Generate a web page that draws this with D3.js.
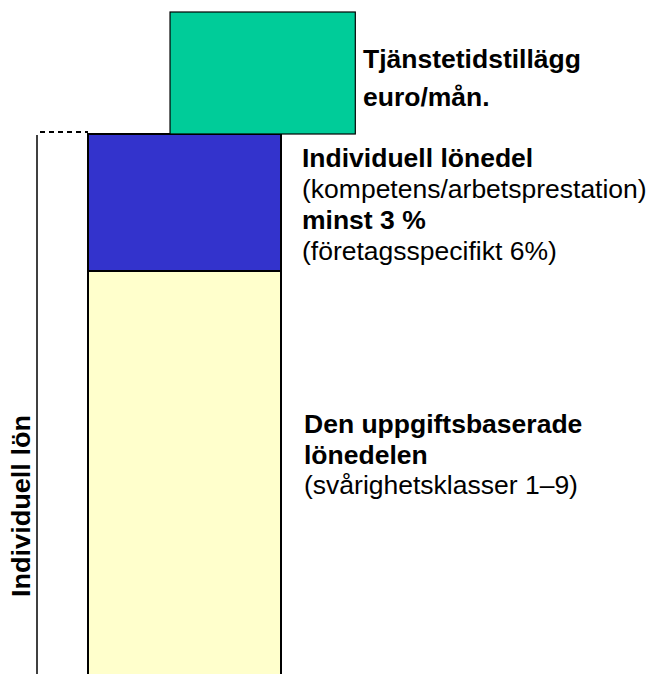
<!DOCTYPE html>
<html>
<head>
<meta charset="utf-8">
<script src="https://cdn.jsdelivr.net/npm/d3@7"></script>
<style>
  body { margin: 0; background: #fff; }
  text { font-family: "Liberation Sans", Arial, sans-serif; fill: #000; }
</style>
</head>
<body>
<div id="chart-area"></div>
<script>
// salary parts, bottom to top
var parts = ["Den uppgiftsbaserade lönedelen", "Individuell lönedel", "Tjänstetidstillägg"];
var partValues = [40.5, 13.7, 12.2];
var partColors = ["#FFFFCC", "#3333CC", "#00CC99"];

// text next to each part (one line per entry)
var labelLines = [
    ["Den uppgiftsbaserade", "lönedelen", "(svårighetsklasser 1–9)"],
    ["Individuell lönedel", "(kompetens/arbetsprestation)", "minst 3 %", "(företagsspecifikt 6%)"],
    ["Tjänstetidstillägg", "euro/mån."]
];
var labelBold = [
    [true, true, false],
    [true, false, true, false],
    [true, true]
];
var sideLabel = "Individuell lön";

var width = 649,
    height = 674;

var svg = d3.select("#chart-area")
    .append("svg")
    .attr("width", width)
    .attr("height", height);

// stack the values
var stacked = [];
var acc = 0;
partValues.forEach(function(v, i){
    stacked.push({ name: parts[i], y0: acc, y1: acc + v, color: partColors[i], i: i });
    acc += v;
});

var y = d3.scaleLinear()
    .domain([0, acc])
    .range([676, 12]);

// the top part sits shifted to the right
var x = d3.scaleLinear()
    .domain([0, 1])
    .range([88, 281]);
var shift = [0, 0, 0.425];
var widths = [1, 1, 0.96];

svg.selectAll("rect.part")
    .data(stacked)
    .enter()
    .append("rect")
        .attr("class", "part")
        .attr("x", function(d){ return x(shift[d.i]); })
        .attr("y", function(d){ return y(d.y1); })
        .attr("width", function(d){ return x(shift[d.i] + widths[d.i]) - x(shift[d.i]); })
        .attr("height", function(d){ return y(d.y0) - y(d.y1); })
        .attr("fill", function(d){ return d.color; })
        .attr("stroke", "#000")
        .attr("stroke-width", function(d){ return d.i == 2 ? 1.2 : 2; });

// bracket on the left for the individual salary
var bracketTop = y(partValues[0] + partValues[1]);
svg.append("line")
    .attr("x1", 37).attr("x2", 37)
    .attr("y1", bracketTop + 1).attr("y2", height)
    .attr("stroke", "#000")
    .attr("stroke-width", 1.5);

svg.append("line")
    .attr("x1", 40).attr("x2", x(0))
    .attr("y1", bracketTop - 2).attr("y2", bracketTop - 2)
    .attr("stroke", "#000")
    .attr("stroke-width", 1.8)
    .attr("stroke-dasharray", "5,4");

svg.append("text")
    .attr("transform", "translate(30," + 506 + ") rotate(-90)")
    .attr("text-anchor", "middle")
    .attr("font-size", "26px")
    .attr("font-weight", "bold")
    .attr("textLength", 182)
    .attr("lengthAdjust", "spacingAndGlyphs")
    .text(sideLabel);

// labels
var labelPos = [
    { x: 304, y: 433, lh: 30.5, size: 26.5 },
    { x: 302, y: 167, lh: 31, size: 26.5 },
    { x: 363, y: 68, lh: 37.5, size: 26.5 }
];

labelLines.forEach(function(lines, i){
    var p = labelPos[i];
    var t = svg.append("text")
        .attr("x", p.x)
        .attr("y", p.y)
        .attr("font-size", p.size + "px");
    lines.forEach(function(line, j){
        t.append("tspan")
            .attr("x", p.x)
            .attr("y", p.y + j * p.lh)
            .attr("font-weight", labelBold[i][j] ? "bold" : "normal")
            .text(line);
    });
});
</script>
</body>
</html>
